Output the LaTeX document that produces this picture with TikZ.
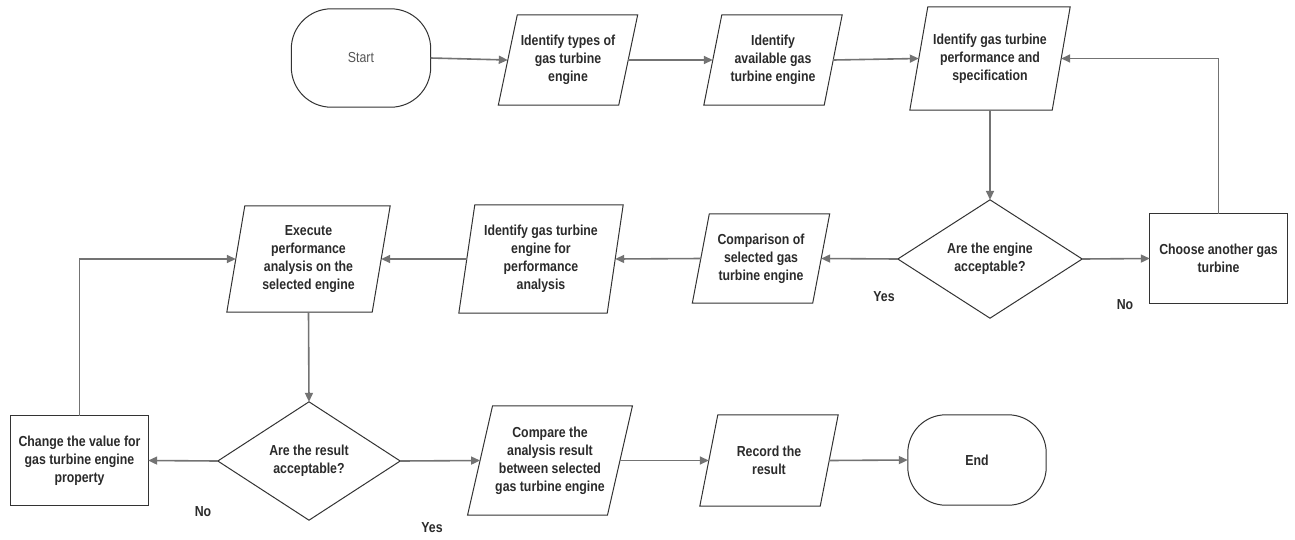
\documentclass[tikz,border=0pt]{standalone}
\usepackage{fontspec}
\setmainfont{Liberation Sans}
\newfontfamily\condfont[FakeStretch=0.85]{Liberation Sans}
\usetikzlibrary{arrows.meta}
\definecolor{edgec}{HTML}{737373}
\definecolor{linec}{HTML}{333333}
\definecolor{txtc}{HTML}{2B2B2B}
\definecolor{softc}{HTML}{555555}
\tikzset{
  box/.style={rectangle, draw=none, inner sep=0pt, align=center,
    font=\condfont\fontsize{14.5}{18}\selectfont\bfseries, text=txtc},
  outline/.style={draw=linec, line width=1pt},
  conn/.style={draw=edgec, line width=1.6pt, -{Triangle[length=9pt,width=8pt]}},
  lbl/.style={font=\condfont\fontsize{14.5}{16}\selectfont\bfseries, text=txtc, inner sep=0pt},
}
\newcommand\pgram[2]{\draw[outline] ([xshift=#2pt]#1.north west) -- ([xshift=#2pt]#1.north east)
  -- ([xshift=-#2pt]#1.south east) -- ([xshift=-#2pt]#1.south west) -- cycle;}
\newcommand\diam[1]{\draw[outline] (#1.north) -- (#1.east) -- (#1.south) -- (#1.west) -- cycle;}
\newcommand\term[2]{\draw[outline, rounded corners=#2pt] (#1.north west) rectangle (#1.south east);}
\begin{document}
\begin{tikzpicture}[x=1pt,y=-1pt]
\fill[white] (0,0) rectangle (1295,539);
\useasboundingbox (0,0) rectangle (1295,539);
% top row
\node[box, minimum width=139pt, minimum height=98pt, font=\condfont\fontsize{14.5}{18}\selectfont, text=softc] (start) at (361,58) {Start};
\node[box, minimum width=120pt, minimum height=90pt] (p1) at (568,60) {Identify types of\\gas turbine\\engine};
\node[box, minimum width=120pt, minimum height=90pt] (p2) at (773,60) {Identify\\available gas\\turbine engine};
\node[box, minimum width=142pt, minimum height=103pt] (p3) at (990,58.5) {Identify gas turbine\\performance and\\specification};
% middle row
\node[box, minimum width=184pt, minimum height=118pt] (d1) at (990,259) {Are the engine\\acceptable?};
\node[box, minimum width=137pt, minimum height=89pt] (choose) at (1218.5,258.5) {Choose another gas\\turbine};
\node[box, minimum width=120pt, minimum height=89pt] (p5) at (761,258.5) {Comparison of\\selected gas\\turbine engine};
\node[box, minimum width=148pt, minimum height=108pt] (p4) at (541,259) {Identify gas turbine\\engine for\\performance\\analysis};
\node[box, minimum width=145pt, minimum height=106pt] (exec) at (308.5,259) {Execute\\performance\\analysis on the\\selected engine};
% bottom row
\node[box, minimum width=182pt, minimum height=118pt] (d2) at (309,461) {Are the result\\acceptable?};
\node[box, minimum width=137pt, minimum height=89pt] (change) at (79.5,460.5) {Change the value for\\gas turbine engine\\property};
\node[box, minimum width=139.5pt, minimum height=109pt] (p6) at (550,460.5) {Compare the\\analysis result\\between selected\\gas turbine engine};
\node[box, minimum width=120pt, minimum height=91pt] (p7) at (769,460.5) {Record the\\result};
\node[box, minimum width=138pt, minimum height=90pt] (end) at (977,460) {End};
% outlines
\term{start}{40}
\pgram{p1}{9.5}
\pgram{p2}{9}
\pgram{p3}{9}
\diam{d1}
\draw[outline] (choose.north west) rectangle (choose.south east);
\pgram{p5}{8.5}
\pgram{p4}{8}
\pgram{exec}{9}
\diam{d2}
\draw[outline] (change.north west) rectangle (change.south east);
\pgram{p6}{12.5}
\pgram{p7}{9}
\term{end}{38}
% connectors
\draw[conn] (start.east) -- (p1.west);
\draw[conn] (p1.east) -- (p2.west);
\draw[conn] (p2.east) -- (p3.west);
\draw[conn] (p3.south) -- (d1.north);
\draw[conn] (d1.east) -- (choose.west);
\draw[conn] (choose.north) |- (p3.east);
\draw[conn] (d1.west) -- (p5.east);
\draw[conn] (p5.west) -- (p4.east);
\draw[conn] (p4.west) -- (exec.east);
\draw[conn] (exec.south) -- (d2.north);
\draw[conn] (d2.west) -- (change.east);
\draw[conn] (change.north) |- (exec.west);
\draw[conn] (d2.east) -- (p6.west);
\draw[conn] (p6.east) -- (p7.west);
\draw[conn] (p7.east) -- (end.west);
% labels
\node[lbl] (yes1) at (884,297) {Yes};
\node[lbl] (no1) at (1125,305) {No};
\node[lbl] (no2) at (203,512) {No};
\node[lbl] (yes2) at (432,528) {Yes};
\end{tikzpicture}
\end{document}
